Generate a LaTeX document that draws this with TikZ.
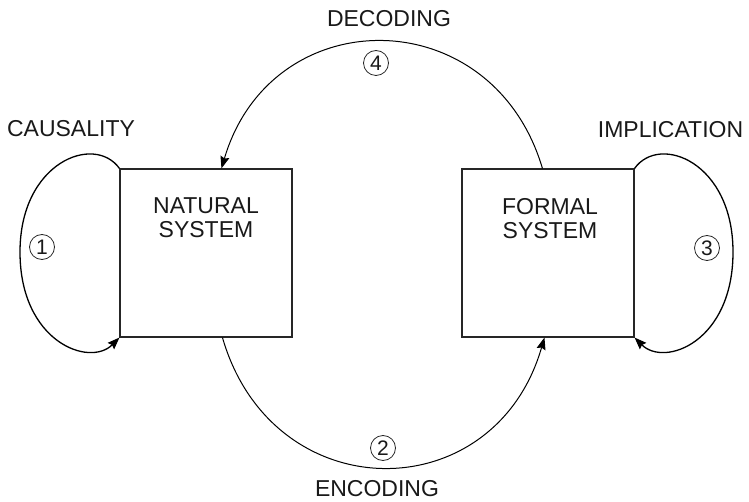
\documentclass[tikz,border=0pt]{standalone}
\usepackage{fontspec}
\setmainfont{Liberation Sans}
\usetikzlibrary{arrows.meta}
\tikzset{
  sysbox/.style={draw=black!85, line width=1.1pt, minimum width=172pt, minimum height=168pt, inner sep=0pt},
  systext/.style={inner sep=0pt, align=center, font=\fontsize{23}{24}\selectfont, text=black!90},
  lbl/.style={inner sep=0pt, font=\fontsize{23}{24}\selectfont, text=black!90},
  num/.style={circle, draw=black!85, line width=0.8pt, minimum size=25pt, inner sep=0pt, font=\fontsize{21}{21}\selectfont, text=black!90},
  loopline/.style={line width=1.3pt, -{Stealth[length=12pt,width=9pt,inset=1.5pt]}},
  arcline/.style={line width=1pt, -{Stealth[length=12pt,width=9pt,inset=1.5pt]}}
}
\begin{document}
\begin{tikzpicture}[x=1pt,y=-1pt]
\useasboundingbox (0,0) rectangle (749,502);
\node[sysbox] (nat) at (206,253) {};
\node[sysbox] (form) at (548,253) {};
\node[systext] (natt) at (206,217.5) {NATURAL\\SYSTEM};
\node[systext] (formt) at (550,219) {FORMAL\\SYSTEM};
\node[lbl] (caus) at (71,128.5) {CAUSALITY};
\node[lbl] (impl) at (670.5,130) {IMPLICATION};
\node[lbl] (dec) at (389,18.5) {DECODING};
\node[lbl] (enc) at (377,489) {ENCODING};
\node[num] (n1) at (42,247) {1};
\node[num] (n2) at (383,448) {2};
\node[num] (n3) at (707,248) {3};
\node[num] (n4) at (376,63) {4};
\coordinate (lc) at (20,252);
\coordinate (rc) at (733,252);
\coordinate (d1) at ([xshift=81pt]form.north west);
\coordinate (d2) at ([xshift=102pt]nat.north west);
\coordinate (e1) at ([xshift=103pt]nat.south west);
\coordinate (e2) at ([xshift=83pt]form.south west);
\draw[loopline] (nat.north west) .. controls +(-25,-35) and +(0,-90) .. (lc)
  .. controls +(0,90) and +(-30,30) .. (nat.south west);
\draw[loopline] (form.north east) .. controls +(25,-35) and +(0,-90) .. (rc)
  .. controls +(0,90) and +(30,30) .. (form.south east);
\draw[arcline] (d1) .. controls +(-50,-169) and +(50,-169) .. (d2);
\draw[arcline] (e1) .. controls +(50,173) and +(-50,173) .. (e2);
\end{tikzpicture}
\end{document}
